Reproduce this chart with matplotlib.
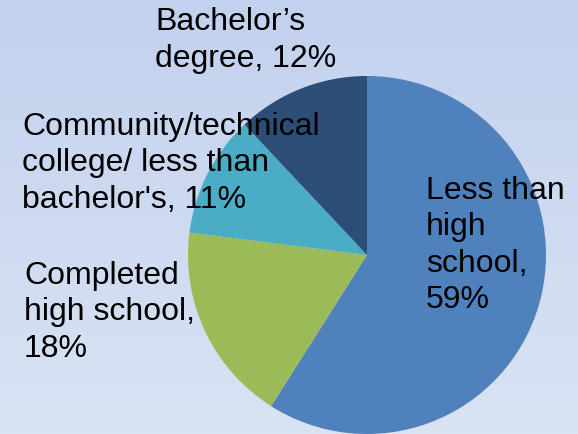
import matplotlib
matplotlib.use("Agg")
import matplotlib.pyplot as plt
import matplotlib.colors as mcolors
import numpy as np

# Education level shares (percent), clockwise from 12 o'clock
categories = ["Less than\nhigh\nschool", "Completed\nhigh school",
              "Community/technical\ncollege/ less than\nbachelor's",
              "Bachelor\u2019s\ndegree"]
shares = [59, 18, 11, 12]
colors = ["#4f81bd", "#9bbb59", "#4bacc6", "#2c4d75"]
# what goes between the name and the percentage
value_sep = [",\n", ",\n", ", ", ", "]

# label anchors in pixel space: left x, first baseline y
label_pos = [(426, 199), (24, 284), (22, 135), (155, 30)]
line_step = 36.5

W, H = 578, 435
fig = plt.figure(figsize=(W / 100, H / 100), dpi=100)
ax = fig.add_axes([0, 0, 1, 1])

# soft vertical gradient behind the chart
bg = mcolors.LinearSegmentedColormap.from_list("bg", ["#c2d1ee", "#dae3f4"])
grad = np.linspace(0, 1, 256).reshape(-1, 1)
ax.imshow(grad, cmap=bg, extent=[0, W, H, 0], aspect="auto", zorder=0)

# y axis runs downward (pixel space), so angles are mirrored
ax.pie(shares, colors=colors, startangle=-90, counterclock=True,
       center=(367, 256), radius=179, frame=True,
       wedgeprops=dict(linewidth=0, zorder=2))
ax.set_xlim(0, W)
ax.set_ylim(H, 0)
ax.set_aspect("equal")
ax.axis("off")

for cat, val, sep, (x, y) in zip(categories, shares, value_sep, label_pos):
    lines = f"{cat}{sep}{val}%".split("\n")
    for i, line in enumerate(lines):
        ax.text(x, y + i * line_step, line, fontsize=23,
                family="Liberation Sans", color="black",
                ha="left", va="baseline", zorder=3)

fig.savefig("out.png", dpi=100)
